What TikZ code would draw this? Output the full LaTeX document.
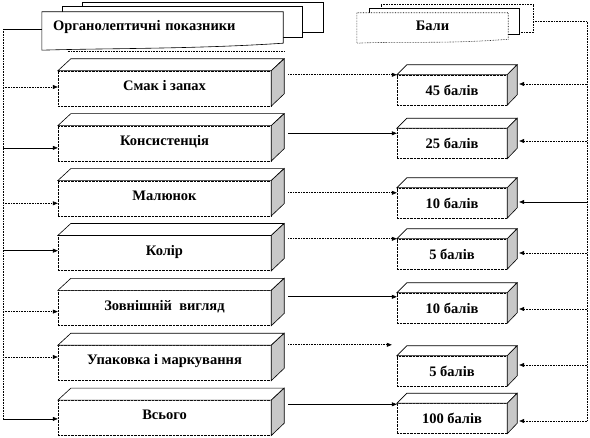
\documentclass[tikz,border=0pt]{standalone}
\usepackage{fontspec}
\setmainfont{Liberation Serif}
\usepackage{tikz}
\usetikzlibrary{positioning,arrows.meta,backgrounds}
\definecolor{sidegray}{RGB}{200,200,200}

\begin{document}
\begin{tikzpicture}[x=1pt, y=-1pt, font=\bfseries\fontsize{14.5}{16}\selectfont,
  lbox/.style={draw, densely dotted, fill=white, minimum width=213pt, minimum height=35pt, inner sep=0pt, text height=10pt, text depth=6pt},
  rbox/.style={draw, densely dotted, fill=white, minimum width=110pt, minimum height=30pt, inner sep=0pt},
  face/.style={draw, solid, fill=white, line width=0.6pt},
  side/.style={draw, solid, fill=sidegray, line width=0.6pt},
  sheet/.style={draw, fill=white, line width=0.6pt},
  arr/.style={-{Triangle[length=5pt,width=4pt]}, line width=0.6pt}]
\useasboundingbox (0,0) rectangle (590,438);
\node[minimum width=241pt, minimum height=31pt, text width=219pt, inner xsep=11pt, align=left] (org) at (162.5,27.5) {Органолептичні показники};
\node[minimum width=151pt, minimum height=26pt, inner sep=0pt] (bal) at (432.5,26) {Бали};
\begin{scope}[on background layer]
\draw[sheet] ([shift={(40,-9)}]org.north west) rectangle ([shift={(40,21)}]org.north east);
\draw[sheet] ([shift={(20,-5)}]org.north west) rectangle ([shift={(19,26)}]org.north east);
\draw[sheet] (org.north west) -- (org.north east) -- (org.south east) .. controls +(-90,6) and +(60,-2) .. ([yshift=-7pt]org.south west) -- cycle;
\draw[line width=0.6pt, densely dotted] ([shift={(26,8)}]org.south west) -- ([shift={(2,8)}]org.south east);
\draw[sheet, densely dotted] ([shift={(24,-8)}]bal.north west) rectangle ([shift={(25,20)}]bal.north east);
\draw[sheet] ([shift={(12,-4)}]bal.north west) rectangle ([shift={(11,22)}]bal.north east);
\draw[sheet, densely dotted] (bal.north west) -- (bal.north east) -- (bal.south east) .. controls +(-60,5) and +(40,-2) .. ([yshift=-4pt]bal.south west) -- cycle;
\end{scope}
\node[lbox] (smak) at (164.5,88.5) {Смак і запах};
\node[lbox, below=19.5pt of smak] (kons) {Консистенція};
\node[lbox, below=19.5pt of kons] (mal) {Малюнок};
\node[lbox, below=19.5pt of mal] (kol) {Колір};
\node[lbox, below=19.5pt of kol] (vyg) {Зовнішній\ \ вигляд};
\node[lbox, below=19.5pt of vyg] (upak) {Упаковка і маркування};
\node[lbox, below=19.5pt of upak] (vsogo) {Всього};
\node[rbox] (b45) at (452,90) {45 балів};
\node[rbox] (b25) at (452,143.5) {25 балів};
\node[rbox] (b10) at (452,203) {10 балів};
\node[rbox] (b5) at (452,254) {5 балів};
\node[rbox] (b10b) at (452,308) {10 балів};
\node[rbox] (b5b) at (452,371) {5 балів};
\node[rbox] (b100) at (452,418.5) {100 балів};
\foreach \n in {smak,kons,mal,kol,vyg,upak,vsogo}{
  \draw[face] (\n.north west) -- ++(13,-12) -- ++(213,0) -- (\n.north east) -- cycle;
  \draw[side] (\n.north east) -- ++(13,-12) -- ++(0,35) -- (\n.south east) -- cycle;
}
\foreach \n in {b45,b25,b10,b5,b10b,b5b,b100}{
  \draw[face] (\n.north west) -- ++(10,-10) -- ++(110,0) -- (\n.north east) -- cycle;
  \draw[side] (\n.north east) -- ++(10,-10) -- ++(0,30) -- (\n.south east) -- cycle;
}
\coordinate (ltop) at (3,29);
\coordinate (rtop) at (587,21);
\draw[line width=0.6pt] (ltop) -- ([yshift=-1.5pt]org.west);
\draw[line width=0.6pt, densely dotted] (ltop) -- ([yshift=-1pt]vsogo.west -| ltop);
\draw[line width=0.6pt, densely dotted] ([shift={(25,-5)}]bal.east) -- (rtop) -- ([yshift=-2.5pt]b100.east -| rtop);
\draw[arr, densely dotted] ([yshift=1.5pt]smak.west -| ltop) -- ([yshift=1.5pt]smak.west);
\draw[arr] ([yshift=-4.5pt]kons.west -| ltop) -- ([yshift=-4.5pt]kons.west);
\draw[arr, densely dotted] ([yshift=-5pt]mal.west -| ltop) -- ([yshift=-5pt]mal.west);
\draw[arr] ([yshift=2.5pt]kol.west -| ltop) -- ([yshift=2.5pt]kol.west);
\draw[arr, densely dotted] ([yshift=-3.5pt]vyg.west -| ltop) -- ([yshift=-3.5pt]vyg.west);
\draw[arr, densely dotted] ([yshift=6pt]upak.west -| ltop) -- ([yshift=6pt]upak.west);
\draw[arr] ([yshift=-1pt]vsogo.west -| ltop) -- ([yshift=-1pt]vsogo.west);
\draw[arr, densely dotted] ([xshift=17pt]b45.north west -| smak.east) -- (b45.north west);
\draw[arr] ([xshift=17pt, yshift=-5pt]b25.north west -| kons.east) -- ([yshift=-5pt]b25.north west);
\draw[arr, densely dotted] ([xshift=17pt, yshift=-5pt]b10.north west -| mal.east) -- ([yshift=-5pt]b10.north west);
\draw[arr, densely dotted] ([xshift=17pt]b5.north west -| kol.east) -- (b5.north west);
\draw[arr] ([xshift=17pt, yshift=-4pt]b10b.north west -| vyg.east) -- ([yshift=-4pt]b10b.north west);
\draw[arr, densely dotted] ([xshift=17pt, yshift=11pt]b5b.north west -| upak.east) -- ([xshift=-5pt, yshift=11pt]b5b.north west);
\draw[arr] ([xshift=17pt, yshift=-1pt]b100.north west -| vsogo.east) -- ([yshift=-1pt]b100.north west);
\draw[arr, densely dotted] ([yshift=6pt]b45.east -| rtop) -- ([xshift=12pt, yshift=6pt]b45.east);
\draw[arr, densely dotted] ([yshift=2.5pt]b25.east -| rtop) -- ([xshift=12pt, yshift=2.5pt]b25.east);
\draw[arr] ([yshift=1pt]b10.east -| rtop) -- ([xshift=12pt, yshift=1pt]b10.east);
\draw[arr, densely dotted] ([yshift=1pt]b5.east -| rtop) -- ([xshift=12pt, yshift=1pt]b5.east);
\draw[arr, densely dotted] ([yshift=-1pt]b10b.east -| rtop) -- ([xshift=12pt, yshift=-1pt]b10b.east);
\draw[arr, densely dotted] ([yshift=6pt]b5b.east -| rtop) -- ([xshift=12pt, yshift=6pt]b5b.east);
\draw[arr, densely dotted] ([yshift=-2.5pt]b100.east -| rtop) -- ([xshift=12pt, yshift=-2.5pt]b100.east);
\end{tikzpicture}
\end{document}
